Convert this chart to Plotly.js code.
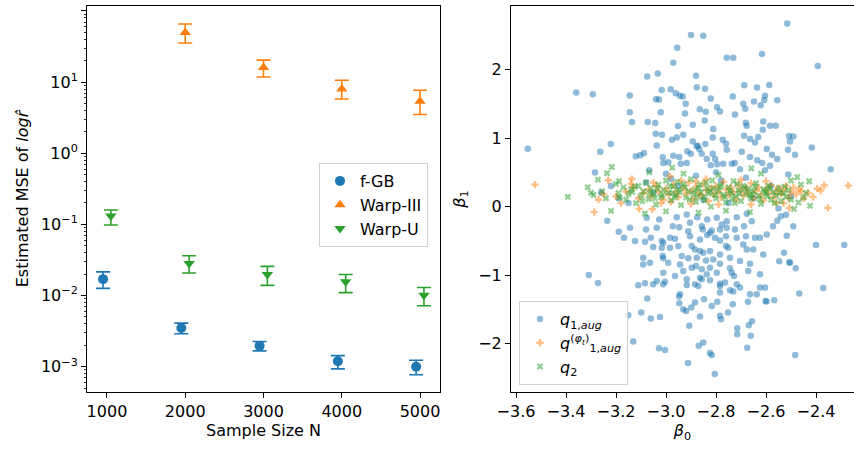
<!DOCTYPE html>
<html><head><meta charset="utf-8">
<script src="https://cdn.plot.ly/plotly-3.0.1.min.js"></script>
<style>html,body{margin:0;padding:0;background:#fff}#chart{width:854px;height:449px}</style>
</head><body><div id="chart"></div><script>
// ---------- Left panel data ----------
const sampleSize = [1000, 2000, 3000, 4000, 5000];
const fgbN = [1000, 2000, 3000, 4000, 5000];
const fgbMSE = [0.017, 0.0035, 0.00196, 0.00119, 0.0010];
const fgbUpper = [0.0215, 0.0041, 0.00226, 0.00143, 0.00123];
const fgbLower = [0.0126, 0.0029, 0.00167, 0.00093, 0.00077];
const warp3N = [2000, 3000, 4000, 5000];
const warp3MSE = [50, 16, 8.0, 5.4];
const warp3Upper = [65.6, 20.4, 10.6, 7.7];
const warp3Lower = [35.5, 11.8, 5.8, 3.5];
const warpUN = [1000, 2000, 3000, 4000, 5000];
const warpUMSE = [0.131, 0.0283, 0.0198, 0.0156, 0.0101];
const warpUUpper = [0.159, 0.0363, 0.0257, 0.0198, 0.013];
const warpULower = [0.098, 0.0207, 0.0139, 0.011, 0.0072];
const yTickVals = [1e-3, 1e-2, 1e-1, 1e0, 1e1, 1e2];
const yTickText = ['10<sup>−3</sup>', '10<sup>−2</sup>', '10<sup>−1</sup>', '10<sup>0</sup>', '10<sup>1</sup>', '10<sup>2</sup>'];

// ---------- Right panel data (beta0, beta1) ----------
// q_{1,aug}: upper cloud
const q1augUpB0 = [-2.515,-2.900,-2.851,-2.955,-2.616,-2.757,-2.731,-2.393,-2.971,-3.075,-3.033,-2.880,-3.359,-3.293,-3.145,-3.017,-2.981,-2.961,-2.944,-2.933,-2.877,-2.844,-3.040,-3.028,-2.921,-2.821,-2.733,-2.687,-2.636,-2.587,-2.604,-2.607,-2.648,-2.555,-2.691,-2.683,-2.621,-3.145,-3.136,-3.073,-3.043,-3.021,-2.924,-2.865,-2.841,-2.796,-2.784,-2.724,-2.845,-2.952,-2.893,-2.681,-2.677,-2.611,-2.613,-2.584,-2.561,-2.811,-3.221,-3.263,-3.553,-3.041,-3.037,-3.016,-2.976,-2.957,-2.931,-2.893,-2.877,-2.873,-2.843,-2.813,-2.773,-2.760,-2.688,-2.664,-2.644,-2.631,-2.597,-2.576,-2.555,-2.508,-2.491,-2.504,-2.512,-2.484,-2.417,-2.341,-3.121,-3.103,-3.088,-3.067,-3.284,-3.013,-3.011,-2.991,-2.971,-2.947,-2.917,-2.915,-2.941,-2.901,-2.867,-2.857,-2.837,-2.821,-2.795,-2.813,-2.803,-2.771,-2.757,-2.737,-2.725,-2.704,-2.697,-2.664,-2.635,-2.615,-2.604,-2.584,-2.511];
const q1augUpB1 = [2.672,2.502,2.492,2.318,2.226,2.172,2.172,2.051,2.099,1.896,1.940,1.910,1.663,1.639,1.619,1.702,1.712,1.653,1.615,1.606,1.741,1.717,1.566,1.561,1.498,1.576,1.605,1.770,1.736,1.775,1.615,1.556,1.532,1.552,1.498,1.425,1.479,1.377,1.232,1.232,1.218,1.377,1.358,1.421,1.382,1.450,1.387,1.343,1.256,1.175,1.194,1.222,1.178,1.241,1.120,1.178,1.178,1.130,0.912,0.800,0.844,1.062,0.892,1.047,0.975,1.008,1.047,0.950,0.878,0.887,0.912,1.008,0.975,0.917,1.033,0.984,0.936,1.013,0.839,0.756,0.694,1.028,1.023,0.950,0.829,0.756,0.863,0.543,0.732,0.747,0.781,0.529,0.495,0.718,0.635,0.645,0.742,0.723,0.635,0.805,0.626,0.771,0.839,0.771,0.694,0.601,0.616,0.771,0.694,0.626,0.829,0.626,0.635,0.543,0.800,0.723,0.674,0.635,0.529,0.596,0.466];
// q_{1,aug}: points near the band
const q1augMidB0 = [-3.19,-3.15,-3.08,-3.05,-2.98,-2.95,-2.88,-2.85,-2.78,-2.75,-2.68,-2.65,-2.58,-2.55,-2.52,-2.50,-3.22,-3.26,-3.00,-2.80];
const q1augMidB1 = [0.12,0.05,0.35,0.20,0.40,0.30,0.45,0.10,0.38,0.05,0.42,0.12,0.30,-0.03,-0.12,0.15,0.30,0.20,0.48,0.50];
// q_{1,aug}: central lower cloud
const q1augLowB0 = [-2.957,-2.917,-2.875,-2.835,-2.797,-2.777,-2.757,-2.717,-2.677,-3.027,-3.077,
-3.144,-3.080,-3.037,-2.973,-2.947,-2.904,-2.857,-2.853,-2.817,-2.784,-2.757,-2.724,-2.688,-2.657,
-3.168,-3.124,-3.084,-3.061,-3.017,-3.011,-2.984,-2.964,-2.911,-2.904,-2.864,-2.835,-2.824,-2.804,-2.784,-2.760,-2.717,-2.680,-2.644,-2.624,-2.597,
-3.051,-3.017,-2.984,-2.951,-2.897,-2.884,-2.864,-2.851,-2.824,-2.784,-2.760,-2.751,-2.691,-2.677,-2.651,-2.611,
-3.091,-3.013,-3.011,-2.937,-2.911,-2.877,-2.840,-2.811,-2.744,-2.704,
-3.091,-3.064,-2.991,-2.944,-2.897,-2.880,-2.857,-2.824,-2.784,-2.744,-2.664,
-3.011,-2.931,-2.864,-2.837,-2.797,-2.737,-2.728,-2.671,-2.624,
-2.964,-3.037,-3.004,-2.917,-2.857,-2.824,-2.784,-2.764,-2.717,
-3.111,-3.084,-3.051,-3.011,-2.917,-2.884,-2.871,-2.784,-2.744,-2.704,-2.624,-2.604,
-2.944,-2.784,-2.731,-2.637];
const q1augLowB1 = [-0.155,-0.116,-0.155,-0.189,-0.165,-0.262,-0.213,-0.155,-0.107,-0.189,-0.165,
-0.310,-0.335,-0.310,-0.286,-0.301,-0.238,-0.286,-0.335,-0.349,-0.335,-0.310,-0.335,-0.286,-0.213,
-0.456,-0.504,-0.514,-0.456,-0.504,-0.529,-0.456,-0.470,-0.359,-0.432,-0.480,-0.417,-0.383,-0.456,-0.495,-0.432,-0.456,-0.432,-0.456,-0.456,-0.407,
-0.592,-0.601,-0.601,-0.577,-0.577,-0.626,-0.650,-0.674,-0.650,-0.698,-0.577,-0.601,-0.553,-0.626,-0.626,-0.698,
-0.747,-0.723,-0.756,-0.723,-0.756,-0.747,-0.786,-0.771,-0.747,-0.795,
-0.844,-0.820,-0.820,-0.844,-0.892,-0.868,-0.916,-0.892,-0.834,-0.902,-0.834,
-0.965,-0.941,-1.038,-0.989,-0.965,-0.965,-1.013,-0.941,-0.989,
-1.013,-1.086,-1.096,-1.062,-1.062,-1.077,-1.125,-1.110,-1.135,
-1.149,-1.120,-1.135,-1.135,-1.144,-1.135,-1.159,-1.159,-1.222,-1.183,-1.183,-1.183,
-1.280,-1.256,-1.241,-1.280];
// q_{1,aug}: outer lower points
const q1augOutB0 = [-3.235,-3.189,-2.572,-2.555,-2.541,-2.528,-2.517,-2.504,-2.491,-2.400,-2.287,-3.309,-3.272,-2.547,-2.507,-2.481,-2.467,-2.371,-2.664,
-2.602,-2.598,-2.567,-3.151,-3.131,-3.099,-3.075,-3.061,-3.024,-3.028,-3.004,-2.948,-2.947,-2.931,-2.920,-2.907,-2.912,-2.899,-2.884,-2.864,-2.869,-2.851,-2.848,-2.824,-2.817,-2.817,-2.795,-2.784,-2.780,-2.752,-2.733,-2.805,-2.715,-2.715,-2.672,-2.669,-2.661,-2.656,-2.675,-2.483];
const q1augOutB1 = [-0.209,-0.369,-0.286,-0.209,-0.141,-0.674,-0.427,-0.819,-0.286,-0.562,-0.562,-0.999,-1.115,-0.800,-0.814,-0.902,-1.270,-1.188,-1.280,
-1.377,-1.387,-1.367,-1.586,-1.969,-1.547,-1.343,-1.634,-1.610,-2.066,-2.095,-1.314,-1.411,-1.498,-1.523,-1.741,-2.284,-1.474,-1.401,-1.605,-2.032,-1.983,-1.353,-2.138,-2.167,-1.450,-1.391,-1.595,-1.644,-1.547,-1.426,-2.443,-1.775,-1.862,-1.391,-1.731,-1.886,-1.673,-2.061,-2.167];

const q1phiB0 = [-3.524,-3.287,-3.231,-3.27,-3.25,-3.20,-3.137,-2.984,-3.108,-3.055,-2.271,-2.353,-2.367,-2.381,-2.395,-2.412,-2.431,-2.467,-2.46,-2.507,-2.45,-2.48,-2.52,-2.53,
-3.16,-3.13,-3.11,-3.09,-3.07,-3.06,-3.04,-3.03,-3.01,-3.00,-2.99,-2.97,-2.96,-2.95,-2.93,-2.92,-2.91,-2.90,-2.89,-2.88,-2.87,-2.86,-2.85,-2.84,-2.83,-2.82,-2.81,-2.80,-2.79,-2.78,-2.77,-2.76,-2.75,-2.74,-2.73,-2.72,-2.71,-2.70,-2.69,-2.68,-2.67,-2.66,-2.65,-2.64,-2.63,-2.62,-2.61,-2.60,-2.59,-2.58,-2.57,-2.56,-2.55,-2.54,-2.53,-2.51,-2.50,-2.49,-3.18,-3.14,-3.02,-2.94,-2.90,-2.84,-2.79,-2.70,-2.66,-2.60,-2.56,-3.05,-2.98,-2.88];
const q1phiB1 = [0.32,-0.082,0.383,0.10,0.18,0.15,0.402,0.441,-0.034,-0.04,0.305,-0.019,0.310,0.233,0.26,0.141,0.199,0.257,0.22,-0.019,0.12,0.18,0.30,0.05,
0.22,0.28,0.12,0.20,0.25,0.15,0.30,0.22,0.10,0.26,0.18,0.32,0.21,0.14,0.27,0.19,0.35,0.23,0.11,0.29,0.20,0.16,0.33,0.24,0.08,0.27,0.18,0.30,0.22,0.13,0.36,0.25,0.17,0.28,0.21,0.10,0.31,0.24,0.16,0.27,0.20,0.34,0.12,0.23,0.28,0.17,0.09,0.25,0.20,0.31,0.14,0.22,0.27,0.18,0.24,0.13,0.21,0.28,0.05,0.33,0.05,0.38,0.04,0.40,0.03,0.39,0.03,0.37,0.06,0.35,0.07,0.37];

const q2B0 = [-3.393,-3.313,-3.236,-3.217,-3.272,-3.220,-2.975,-2.659,-2.427,-2.424,-2.475,-2.50,-2.488,-2.664,-3.067,-3.084,-3.256,-3.188,-3.20,-3.29,-3.24,-3.30,-2.46,-2.45,-2.47,-2.44,-2.87,-2.76,-3.00,-2.93,-2.79,-2.62,
-3.19,-3.17,-3.16,-3.15,-3.14,-3.12,-3.11,-3.10,-3.09,-3.08,-3.07,-3.06,-3.05,-3.04,-3.03,-3.02,-3.01,-3.00,-2.99,-2.98,-2.97,-2.96,-2.95,-2.94,-2.93,-2.92,-2.91,-2.90,-2.89,-2.88,-2.87,-2.86,-2.85,-2.84,-2.83,-2.82,-2.81,-2.80,-2.79,-2.78,-2.77,-2.76,-2.75,-2.74,-2.73,-2.72,-2.71,-2.70,-2.69,-2.68,-2.67,-2.66,-2.65,-2.64,-2.63,-2.62,-2.61,-2.60,-2.59,-2.58,-2.57,-2.56,-2.55,-2.54,-2.53,-2.52,-2.51,-2.50,
-3.185,-3.135,-3.095,-3.065,-3.035,-3.015,-2.985,-2.965,-2.945,-2.925,-2.905,-2.885,-2.865,-2.845,-2.825,-2.805,-2.785,-2.765,-2.745,-2.725,-2.705,-2.685,-2.665,-2.645,-2.625,-2.605,-2.585,-2.565,-2.545,-2.525,-2.955,-2.875,-2.815,-2.735,-2.655,-3.045,-3.125,-2.975,-2.835,-2.715,-2.595];
const q2B1 = [0.141,0.281,0.485,0.577,0.393,-0.063,0.567,0.558,0.369,0.010,0.427,0.38,-0.034,-0.082,0.499,-0.102,0.223,0.369,0.33,0.17,0.12,0.20,0.32,0.13,0.06,0.20,-0.09,-0.06,-0.07,0.48,0.46,0.48,
0.20,0.28,0.10,0.18,0.25,0.05,0.30,0.16,0.22,0.35,0.11,0.27,0.19,0.03,0.32,0.14,0.24,0.38,0.20,0.09,0.29,0.17,0.25,0.02,0.33,0.13,0.22,0.40,0.18,0.07,0.27,0.21,0.14,0.35,0.19,0.00,0.26,0.12,0.23,0.31,0.17,0.06,0.28,0.20,0.37,0.15,0.24,0.08,0.30,0.19,0.26,0.12,0.22,0.34,0.16,0.04,0.25,0.19,0.30,0.10,0.21,0.16,0.27,0.08,0.20,0.14,0.24,0.10,
0.13,0.21,0.08,0.20,0.26,0.17,0.30,0.13,0.21,0.28,0.10,0.24,0.32,0.09,0.22,0.17,0.29,0.14,0.23,0.05,0.19,0.27,0.16,0.29,0.11,0.22,0.26,0.05,0.20,0.29,0.36,0.15,0.38,0.12,0.18,0.12,0.29,0.20,0.27,0.33,0.15];
const b0TickVals = [-3.6, -3.4, -3.2, -3.0, -2.8, -2.6, -2.4];
const b1TickVals = [-2, -1, 0, 1, 2];

// ---------- Build ----------
const q1augB0 = [].concat(q1augUpB0, q1augMidB0, q1augLowB0, q1augOutB0);
const q1augB1 = [].concat(q1augUpB1, q1augMidB1, q1augLowB1, q1augOutB1);
const C = ['#1f77b4', '#ff7f0e', '#2ca02c'];
const font = {family: 'DejaVu Sans, sans-serif', size: 16, color: '#000'};
const shift = (arr, d) => arr.map(v => v + d);
const up = (u, y) => u.map((v, i) => v - y[i]);
const dn = (l, y) => l.map((v, i) => y[i] - v);
function errSeries(name, x, y, hi, lo, color, symbol) {
  return {
    type: 'scatter', mode: 'markers', name, x, y, xaxis: 'x', yaxis: 'y',
    marker: {color, symbol, size: 10},
    error_y: {type: 'data', symmetric: false, array: up(hi, y), arrayminus: dn(lo, y), color, thickness: 1.6, width: 7},
    legend: 'legend'
  };
}
const minorVals = [];
for (let e = -4; e <= 2; e++) for (let m = 2; m <= 9; m++) minorVals.push(m * Math.pow(10, e));

const traces = [
  errSeries('f-GB', shift(fgbN, -50), fgbMSE, fgbUpper, fgbLower, C[0], 'circle'),
  errSeries('Warp-III', warp3N, warp3MSE, warp3Upper, warp3Lower, C[1], 'triangle-up'),
  errSeries('Warp-U', shift(warpUN, 50), warpUMSE, warpUUpper, warpULower, C[2], 'triangle-down'),
  {type: 'scatter', mode: 'markers', name: '<i>q</i><sub>1,<i>aug</i></sub>', x: q1augB0, y: q1augB1, xaxis: 'x2', yaxis: 'y2',
   marker: {color: C[0], symbol: 'circle', size: 6.5, opacity: 0.5, line: {width: 0}}, legend: 'legend2'},
  {type: 'scatter', mode: 'markers', name: '<i>q</i><sup>(<i>φ<sub>t</sub></i>)</sup><sub>1,<i>aug</i></sub>', x: q1phiB0, y: q1phiB1, xaxis: 'x2', yaxis: 'y2',
   marker: {color: C[1], symbol: 'cross', size: 6, opacity: 0.5, line: {width: 0}}, legend: 'legend2'},
  {type: 'scatter', mode: 'markers', name: '<i>q</i><sub>2</sub>', x: q2B0, y: q2B1, xaxis: 'x2', yaxis: 'y2',
   marker: {color: C[2], symbol: 'x', size: 6, opacity: 0.5, line: {width: 0}}, legend: 'legend2'}
];

const axBase = {
  ticks: 'outside', ticklen: 5, tickwidth: 1, tickcolor: '#000', showline: true, linecolor: '#000', linewidth: 1,
  showgrid: false, zeroline: false, tickfont: font
};
const plotTop = 6, plotBot = 392, plotH = plotBot - plotTop;
const layout = {
  width: 854, height: 449, margin: {l: 0, r: 0, t: plotTop, b: 449 - plotBot, pad: 0},
  paper_bgcolor: '#fff', plot_bgcolor: '#fff', font, showlegend: true,
  xaxis: Object.assign({}, axBase, {domain: [87/854, 440/854], anchor: 'y', range: [745, 5255], tickvals: sampleSize,
    mirror: true, title: {text: 'Sample Size N', font, standoff: 4}}),
  yaxis: Object.assign({}, axBase, {anchor: 'x', type: 'log', range: [-3.356, 2.07], tickvals: yTickVals, ticktext: yTickText,
    mirror: true, title: {text: 'Estimated MSE of <i>logr̂</i>', font, standoff: 8},
    minor: {tickvals: minorVals, ticks: 'outside', ticklen: 2.5, tickwidth: 0.8, tickcolor: '#000', showgrid: false}}),
  xaxis2: Object.assign({}, axBase, {domain: [511/854, 1], anchor: 'y2', range: [-3.62, -2.248], tickvals: b0TickVals,
    ticktext: b0TickVals.map(v => (v < 0 ? '−' : '') + Math.abs(v).toFixed(1)), mirror: true,
    title: {text: '<i>β</i><sub>0</sub>', font, standoff: 2}}),
  yaxis2: Object.assign({}, axBase, {anchor: 'x2', range: [-2.706, 2.926], tickvals: b1TickVals,
    ticktext: b1TickVals.map(v => (v < 0 ? '−' : '') + Math.abs(v)), mirror: false,
    title: {text: '<i>β</i><sub>1</sub>', font, standoff: 8}}),
  legend: {x: 319/854, y: (plotBot - 163) / plotH, xanchor: 'left', yanchor: 'top', bordercolor: '#d0d0d0', borderwidth: 1,
    bgcolor: 'rgba(255,255,255,0.8)', font, tracegroupgap: 0},
  legend2: {x: 519/854, y: (plotBot - 301) / plotH, xanchor: 'left', yanchor: 'top', bordercolor: '#d0d0d0', borderwidth: 1,
    bgcolor: 'rgba(255,255,255,0.8)', font, tracegroupgap: 0}
};
Plotly.newPlot('chart', traces, layout, {displayModeBar: false, staticPlot: true});
</script></body></html>
